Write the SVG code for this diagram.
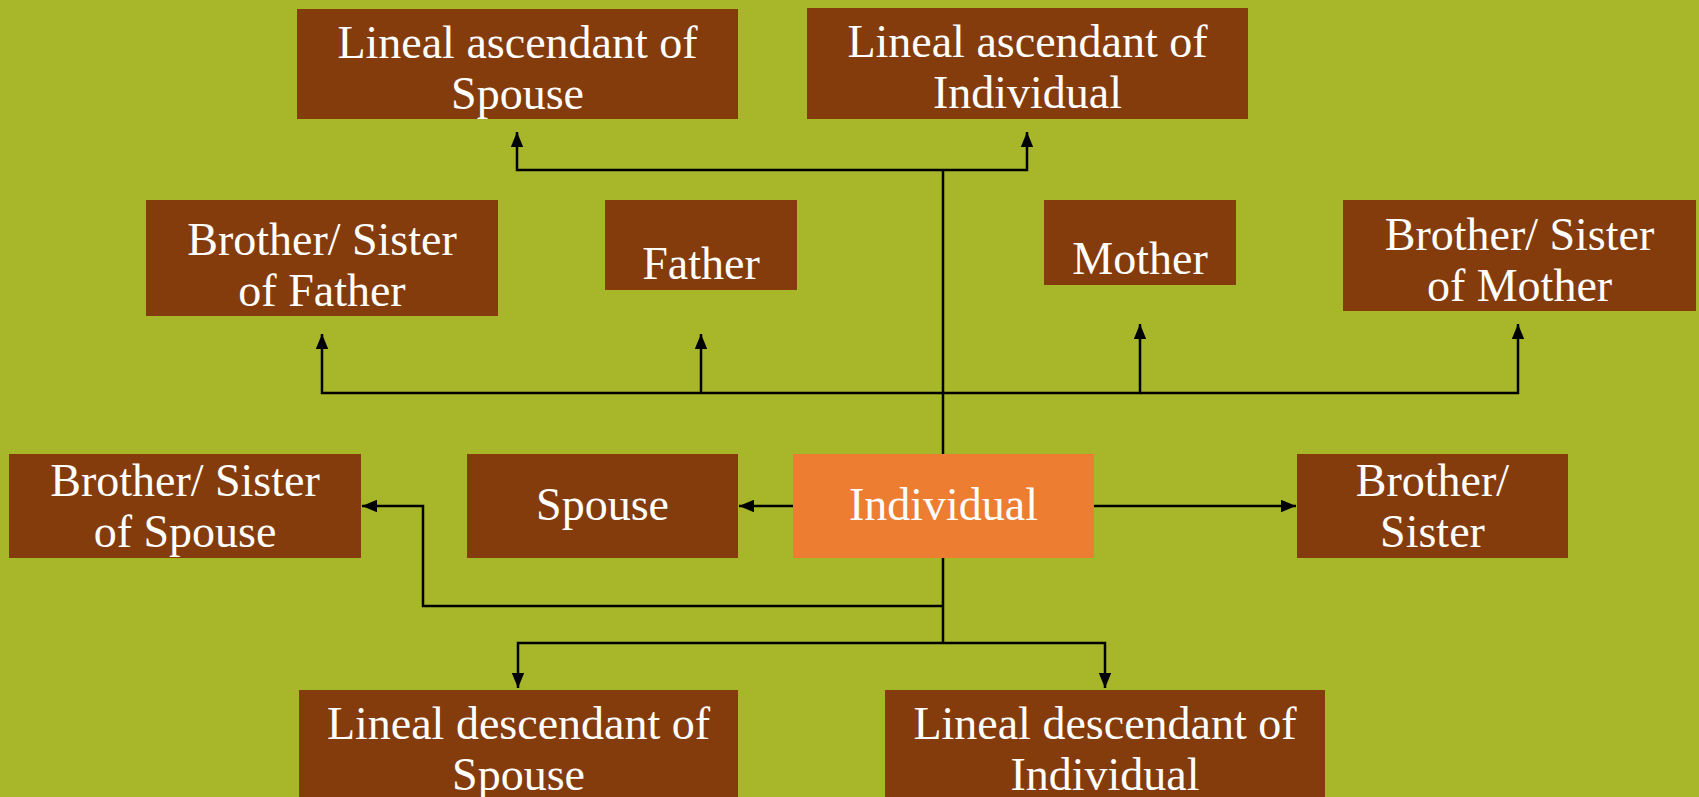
<svg xmlns="http://www.w3.org/2000/svg" width="1699" height="797" viewBox="0 0 1699 797">
<defs>
<style>
.bx{fill:#843C0C}
.ind{fill:#ED7D31}
.t{font-family:"Liberation Serif","Times New Roman",serif;font-size:46px;fill:#FFFFFF;text-anchor:middle}
.c{fill:none;stroke:#000;stroke-width:2.5}
</style>
<marker id="ah" viewBox="0 0 12 10" refX="12" refY="5" markerWidth="6" markerHeight="5" markerUnits="strokeWidth" orient="auto">
<path d="M0,0 L12,5 L0,10 z" fill="#000"/>
</marker>
</defs>
<rect x="0" y="0" width="1699" height="797" fill="#A8B72A"/>
<g id="connectors">
<path class="c" d="M943,170 V643"/>
<path class="c" d="M943,170 H517 V132" marker-end="url(#ah)"/>
<path class="c" d="M943,170 H1027 V132" marker-end="url(#ah)"/>
<path class="c" d="M943,393 H322 V334" marker-end="url(#ah)"/>
<path class="c" d="M701,393 V334" marker-end="url(#ah)"/>
<path class="c" d="M943,393 H1140 V324" marker-end="url(#ah)"/>
<path class="c" d="M1140,393 H1518 V324" marker-end="url(#ah)"/>
<path class="c" d="M793,506 H739" marker-end="url(#ah)"/>
<path class="c" d="M1094,506 H1296" marker-end="url(#ah)"/>
<path class="c" d="M943,606 H423 V506 H362" marker-end="url(#ah)"/>
<path class="c" d="M943,643 H518 V688" marker-end="url(#ah)"/>
<path class="c" d="M943,643 H1105 V688" marker-end="url(#ah)"/>
</g>
<g id="asc-spouse">
<rect class="bx" x="297" y="9" width="441" height="110"/>
<text class="t" x="517.5" y="58">Lineal ascendant of</text>
<text class="t" x="517.5" y="109">Spouse</text>
</g>
<g id="asc-individual">
<rect class="bx" x="807" y="8" width="441" height="111"/>
<text class="t" x="1027.5" y="57">Lineal ascendant of</text>
<text class="t" x="1027.5" y="108">Individual</text>
</g>
<g id="sib-father">
<rect class="bx" x="146" y="200" width="352" height="116"/>
<text class="t" x="322" y="255">Brother/ Sister</text>
<text class="t" x="322" y="306">of Father</text>
</g>
<g id="father">
<rect class="bx" x="605" y="200" width="192" height="90"/>
<text class="t" x="701" y="279">Father</text>
</g>
<g id="mother">
<rect class="bx" x="1044" y="200" width="192" height="85"/>
<text class="t" x="1140" y="274">Mother</text>
</g>
<g id="sib-mother">
<rect class="bx" x="1343" y="200" width="353" height="111"/>
<text class="t" x="1519.5" y="250">Brother/ Sister</text>
<text class="t" x="1519.5" y="301">of Mother</text>
</g>
<g id="sib-spouse">
<rect class="bx" x="9" y="454" width="352" height="104"/>
<text class="t" x="185" y="496">Brother/ Sister</text>
<text class="t" x="185" y="547">of Spouse</text>
</g>
<g id="spouse">
<rect class="bx" x="467" y="454" width="271" height="104"/>
<text class="t" x="602.5" y="520">Spouse</text>
</g>
<g id="individual">
<rect class="ind" x="793" y="454" width="301" height="104"/>
<text class="t" x="943.5" y="520">Individual</text>
</g>
<g id="sibling">
<rect class="bx" x="1297" y="454" width="271" height="104"/>
<text class="t" x="1432.5" y="496">Brother/</text>
<text class="t" x="1432.5" y="547">Sister</text>
</g>
<g id="desc-spouse">
<rect class="bx" x="299" y="690" width="439" height="107"/>
<text class="t" x="518.5" y="739">Lineal descendant of</text>
<text class="t" x="518.5" y="790">Spouse</text>
</g>
<g id="desc-individual">
<rect class="bx" x="885" y="690" width="440" height="107"/>
<text class="t" x="1105" y="739">Lineal descendant of</text>
<text class="t" x="1105" y="790">Individual</text>
</g>
</svg>
